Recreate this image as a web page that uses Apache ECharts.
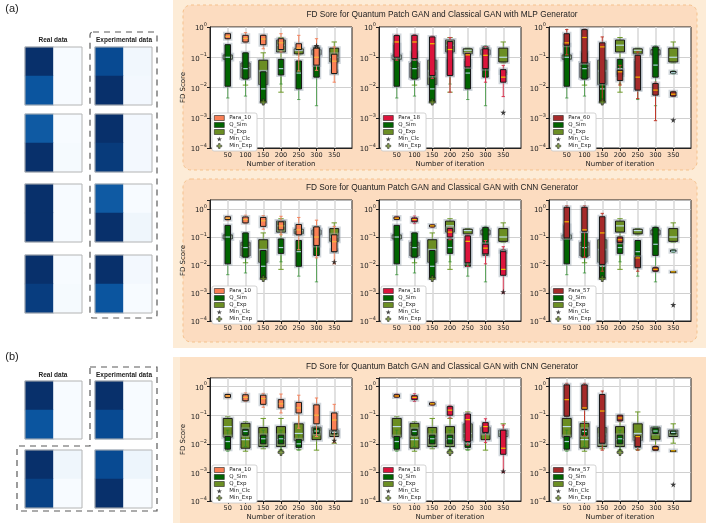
<!DOCTYPE html>
<html>
<head>
  <meta charset="UTF-8">
  <title>FD Score box plots</title>
  <script src="https://cdn.jsdelivr.net/npm/echarts@6/dist/echarts.min.js"></script>
  <style>html,body{margin:0;padding:0;background:#fff}#main{width:706px;height:523px}</style>
</head>
<body>
  <div id="main"></div>
  <script>
    // x categories (empty ends so 50..350 sit like on a 0-400 axis)
    const iterations = ['50', '100', '150', '200', '250', '300', '350'];
    const xCats = [''].concat(iterations, ['']);

    // each row: [low whisker, Q1, median, Q3, high whisker] per iteration
    const qSimPatch = [
      [0.0045, 0.011, 0.1, 0.26, 0.26],
      [0.0052, 0.019, 0.042, 0.14, 0.14],
      [0.0032, 0.0034, 0.009, 0.033, 0.033],
      [0.013, 0.026, 0.042, 0.085, 0.085],
      [0.004, 0.009, 0.03, 0.075, 0.075],
      [0.0025, 0.022, 0.055, 0.22, 0.24],
      [0.028, 0.03, 0.031, 0.034, 0.036]
    ];
    const qExpPatch = [
      [0.08, 0.085, 0.1, 0.12, 0.125],
      [0.012, 0.021, 0.045, 0.065, 0.13],
      [0.0035, 0.0125, 0.035, 0.08, 0.14],
      [0.007, 0.15, 0.25, 0.37, 0.45],
      [0.12, 0.13, 0.17, 0.19, 0.2],
      [0.11, 0.12, 0.15, 0.18, 0.21],
      [0.065, 0.07, 0.1, 0.2, 0.32]
    ];
    const qSimBatch = [
      [0.0055, 0.0065, 0.012, 0.018, 0.03],
      [0.008, 0.02, 0.027, 0.032, 0.035],
      [0.008, 0.01, 0.015, 0.02, 0.03],
      [0.006, 0.01, 0.015, 0.02, 0.03],
      [0.006, 0.0075, 0.01, 0.014, 0.02],
      [0.02, 0.023, 0.028, 0.035, 0.038],
      [0.02, 0.022, 0.025, 0.028, 0.03]
    ];
    const qExpBatch = [
      [0.006, 0.017, 0.04, 0.077, 0.088],
      [0.0055, 0.007, 0.014, 0.052, 0.059],
      [0.0067, 0.008, 0.016, 0.037, 0.077],
      [0.006, 0.008, 0.014, 0.04, 0.077],
      [0.0062, 0.013, 0.023, 0.05, 0.13],
      [0.006, 0.014, 0.026, 0.038, 0.04],
      [0.0105, 0.018, 0.025, 0.03, 0.05]
    ];
    const para10Mlp = [
      [0.40, 0.41, 0.49, 0.6, 0.62],
      [0.3, 0.32, 0.42, 0.53, 0.65],
      [0.19, 0.26, 0.4, 0.53, 0.55],
      [0.15, 0.18, 0.3, 0.41, 0.6],
      [0.035, 0.18, 0.2, 0.28, 0.53],
      [0.037, 0.055, 0.1, 0.2, 0.41],
      [0.015, 0.029, 0.074, 0.126, 0.22]
    ];
    const para18Mlp = [
      [0.08, 0.1, 0.32, 0.52, 0.55],
      [0.08, 0.09, 0.32, 0.53, 0.56],
      [0.02, 0.025, 0.28, 0.47, 0.5],
      [0.007, 0.025, 0.18, 0.33, 0.45],
      [0.045, 0.048, 0.12, 0.13, 0.14],
      [0.015, 0.042, 0.116, 0.19, 0.22],
      [0.005, 0.015, 0.022, 0.039, 0.054]
    ];
    const para60Mlp = [
      [0.12, 0.25, 0.3, 0.6, 0.82],
      [0.062, 0.065, 0.45, 0.82, 0.85],
      [0.0038, 0.0135, 0.22, 0.3, 0.47],
      [0.012, 0.017, 0.033, 0.037, 0.054],
      [0.0043, 0.0082, 0.022, 0.116, 0.15],
      [0.0008, 0.0056, 0.0082, 0.0135, 0.015],
      [0.005, 0.0052, 0.006, 0.0072, 0.0075]
    ];
    const para10Cnn = [
      [0.40, 0.42, 0.47, 0.53, 0.55],
      [0.30, 0.32, 0.42, 0.52, 0.6],
      [0.19, 0.24, 0.38, 0.5, 0.58],
      [0.12, 0.18, 0.25, 0.35, 0.55],
      [0.035, 0.12, 0.18, 0.28, 0.5],
      [0.018, 0.05, 0.1, 0.23, 0.4],
      [0.011, 0.03, 0.068, 0.12, 0.24]
    ];
    const para18Cnn = [
      [0.42, 0.43, 0.47, 0.52, 0.55],
      [0.3, 0.35, 0.42, 0.48, 0.56],
      [0.22, 0.23, 0.25, 0.27, 0.28],
      [0.08, 0.1, 0.15, 0.2, 0.22],
      [0.009, 0.012, 0.07, 0.11, 0.12],
      [0.011, 0.025, 0.04, 0.055, 0.075],
      [0.001, 0.0043, 0.007, 0.03, 0.045]
    ];
    const para57Cnn = [
      [0.09, 0.093, 0.35, 1.15, 1.3],
      [0.019, 0.16, 0.18, 1.15, 1.3],
      [0.006, 0.0105, 0.14, 0.53, 0.7],
      [0.06, 0.064, 0.08, 0.1, 0.1],
      [0.006, 0.008, 0.018, 0.019, 0.02],
      [0.0058, 0.006, 0.007, 0.008, 0.0085],
      [0.0056, 0.0057, 0.0057, 0.0058, 0.0058]
    ];
    // minimum markers [iteration, FD score]
    const minClcMlp = [['300', 0.24], ['350', 0.0015], ['350', 0.00085]];
    const minClcCnn = [['350', 0.013], ['350', 0.0011], ['350', 0.00038]];
    const minExpPatch = ['150', 0.0033];
    const minExpBatch = ['200', 0.005];

    // 2x2 sample images, [top-left, top-right, bottom-left, bottom-right], 0 = white .. 1 = dark blue
    const realA = [[1, 0, 0.86, 0], [0.84, 0, 1, 0.01], [1, 0, 1, 0], [1, 0, 0.95, 0.01]];
    const expA = [[0.9, 0.03, 1, 0.02], [1, 0.02, 0.96, 0.02], [0.84, 0, 1, 0.04], [1, 0.02, 0.86, 0]];
    const realB = [[1, 0, 0.86, 0], [1, 0.04, 0.93, 0]];
    const expB = [[1, 0, 0.9, 0], [0.9, 0.05, 1, 0]];

    const rowTitles = [
      'FD Sore for Quantum Patch GAN and Classical GAN with MLP Generator',
      'FD Sore for Quantum Patch GAN and Classical GAN with CNN Generator',
      'FD Sore for Quantum Batch GAN and Classical GAN with CNN Generator'
    ];

    const panels = [
      {row: 0, col: 0, para: 'Para_10', paraData: para10Mlp, qSim: qSimPatch, qExp: qExpPatch, minClc: minClcMlp[0], minExp: minExpPatch},
      {row: 0, col: 1, para: 'Para_18', paraData: para18Mlp, qSim: qSimPatch, qExp: qExpPatch, minClc: minClcMlp[1], minExp: minExpPatch},
      {row: 0, col: 2, para: 'Para_60', paraData: para60Mlp, qSim: qSimPatch, qExp: qExpPatch, minClc: minClcMlp[2], minExp: minExpPatch},
      {row: 1, col: 0, para: 'Para_10', paraData: para10Cnn, qSim: qSimPatch, qExp: qExpPatch, minClc: minClcCnn[0], minExp: minExpPatch},
      {row: 1, col: 1, para: 'Para_18', paraData: para18Cnn, qSim: qSimPatch, qExp: qExpPatch, minClc: minClcCnn[1], minExp: minExpPatch},
      {row: 1, col: 2, para: 'Para_57', paraData: para57Cnn, qSim: qSimPatch, qExp: qExpPatch, minClc: minClcCnn[2], minExp: minExpPatch},
      {row: 2, col: 0, para: 'Para_10', paraData: para10Cnn, qSim: qSimBatch, qExp: qExpBatch, minClc: minClcCnn[0], minExp: minExpBatch},
      {row: 2, col: 1, para: 'Para_18', paraData: para18Cnn, qSim: qSimBatch, qExp: qExpBatch, minClc: minClcCnn[1], minExp: minExpBatch},
      {row: 2, col: 2, para: 'Para_57', paraData: para57Cnn, qSim: qSimBatch, qExp: qExpBatch, minClc: minClcCnn[2], minExp: minExpBatch}
    ];

    // layout
    const colLeft = [210, 379, 549];
    const plotW = 142;
    const rowTop = [27, 200, 378];
    const rowH = [121, 121, 123];
    const rowMax = [1, 2.1, 2];
    const legendTop = [113, 286, 465];
    const titleY = [15, 188, 367];

    const styles = {
      Q_Sim: {fill: '#006400', whisker: 'rgba(40,140,40,0.7)', median: '#a9cfd6', w: 5.5},
      Q_Exp: {fill: '#6b8e23', whisker: '#6d9a28', median: '#bcdde6', w: 9},
      Para_10: {fill: '#fa8056', whisker: '#f4845f', median: '#f5b73a', w: 5.5},
      Para_18: {fill: '#dc143c', whisker: '#d9334f', median: '#f2c200', w: 5.5},
      Para_60: {fill: '#a52a2a', whisker: '#c0392b', median: '#f2b400', w: 5.5},
      Para_57: {fill: '#a52a2a', whisker: '#c0392b', median: '#f2b400', w: 5.5}
    };
    const starPath = 'path://M50,0 L61,35 L98,35 L68,57 L79,91 L50,70 L21,91 L32,57 L2,35 L39,35 Z';
    const plusPath = 'path://M34,0 H66 V34 H100 V66 H66 V100 H34 V66 H0 V34 H34 Z';

    function boxRenderer(st) {
      return function (params, api) {
        const c = [1, 2, 3, 4, 5].map(k => api.coord([api.value(0), api.value(k)]));
        const x = c[0][0], lo = c[0][1], q1 = c[1][1], md = c[2][1], q3 = c[3][1], hi = c[4][1];
        const w = st.w, cw = w * 0.6;
        const ws = {stroke: st.whisker, lineWidth: 1};
        return {
          type: 'group',
          children: [
            {type: 'line', shape: {x1: x, y1: hi, x2: x, y2: q3}, style: ws},
            {type: 'line', shape: {x1: x, y1: q1, x2: x, y2: lo}, style: ws},
            {type: 'line', shape: {x1: x - cw / 2, y1: hi, x2: x + cw / 2, y2: hi}, style: ws},
            {type: 'line', shape: {x1: x - cw / 2, y1: lo, x2: x + cw / 2, y2: lo}, style: ws},
            {type: 'rect', shape: {x: x - w / 2 - 1, y: q3 - 1, width: w + 2, height: q1 - q3 + 2},
              style: {fill: 'none', stroke: 'rgba(150,165,175,0.45)', lineWidth: 2}},
            {type: 'rect', shape: {x: x - w / 2, y: q3, width: w, height: Math.max(q1 - q3, 1)},
              style: {fill: st.fill, stroke: '#1a1a1a', lineWidth: 1}},
            {type: 'line', shape: {x1: x - w / 2 + 0.5, y1: md, x2: x + w / 2 - 0.5, y2: md},
              style: {stroke: st.median, lineWidth: 1.2}}
          ]
        };
      };
    }

    function sciLabel(v) {
      const e = Math.log10(v);
      if (Math.abs(e - Math.round(e)) > 1e-6) return '';
      const r = Math.round(e);
      return '{b|10}{s|' + (r < 0 ? '\u2212' + (-r) : r) + '}';
    }

    const grid = [], xAxis = [], yAxis = [], series = [], legend = [];

    panels.forEach((p, i) => {
      grid.push({left: colLeft[p.col], top: rowTop[p.row], width: plotW, height: rowH[p.row],
        show: true, backgroundColor: '#fff', borderColor: '#222', borderWidth: 1});
      xAxis.push({
        type: 'category', gridIndex: i, data: xCats, boundaryGap: false,
        axisLine: {show: true, lineStyle: {color: '#222'}},
        axisTick: {show: true, length: 3, interval: (idx, v) => v !== '', lineStyle: {color: '#222'}},
        axisLabel: {interval: 0, fontSize: 6.5, color: '#222', margin: 4},
        splitLine: {show: true, interval: (idx, v) => v !== '', lineStyle: {color: '#dadada', width: 1.6}},
        name: p.row !== 1 ? 'Number of iteration' : '', nameLocation: 'middle', nameGap: 13,
        nameTextStyle: {fontSize: 7, color: '#222'}
      });
      yAxis.push({
        type: 'log', logBase: 10, gridIndex: i, min: 1e-4, max: rowMax[p.row],
        axisLine: {show: true, lineStyle: {color: '#222'}},
        axisTick: {show: true, length: 3, lineStyle: {color: '#222'}},
        axisLabel: {formatter: sciLabel, margin: 3, color: '#222',
          rich: {b: {fontSize: 7, lineHeight: 10, verticalAlign: 'bottom', color: '#222'},
                 s: {fontSize: 5, lineHeight: 7, verticalAlign: 'top', color: '#222'}}},
        splitLine: {show: true, lineStyle: {color: '#c4c4c4', width: 0.8}},
        name: p.col === 0 ? 'FD Score' : '', nameLocation: 'middle', nameGap: 21,
        nameTextStyle: {fontSize: 7, color: '#222'}
      });
      [['Q_Exp', p.qExp], ['Q_Sim', p.qSim], [p.para, p.paraData]].forEach(([name, arr]) => {
        series.push({
          type: 'custom', name: name, xAxisIndex: i, yAxisIndex: i,
          renderItem: boxRenderer(styles[name]),
          encode: {x: 0, y: [1, 2, 3, 4, 5]},
          itemStyle: {color: styles[name].fill},
          data: iterations.map((it, k) => [it].concat(arr[k])),
          z: 3
        });
      });
      series.push({type: 'scatter', name: 'Min_Clc', xAxisIndex: i, yAxisIndex: i, symbol: starPath,
        symbolSize: 6, itemStyle: {color: '#111'}, data: [p.minClc], z: 5});
      series.push({type: 'scatter', name: 'Min_Exp', xAxisIndex: i, yAxisIndex: i, symbol: plusPath,
        symbolSize: 6, itemStyle: {color: '#6b8e23', borderColor: '#1a1a1a', borderWidth: 0.8},
        data: [p.minExp], z: 5});
      const pst = styles[p.para];
      legend.push({
        orient: 'vertical', left: colLeft[p.col] + 2, top: legendTop[p.row],
        itemWidth: 10, itemHeight: 5, itemGap: 1, padding: [2, 5, 2, 2],
        textStyle: {fontSize: 5.5, color: '#222'}, selectedMode: false,
        backgroundColor: '#fff', borderColor: '#c8c8c8', borderWidth: 0.8, borderRadius: 2,
        data: [
          {name: p.para, icon: 'rect', itemStyle: {color: pst.fill, borderColor: '#222', borderWidth: 0.6}},
          {name: 'Q_Sim', icon: 'rect', itemStyle: {color: styles.Q_Sim.fill, borderColor: '#222', borderWidth: 0.6}},
          {name: 'Q_Exp', icon: 'rect', itemStyle: {color: styles.Q_Exp.fill, borderColor: '#222', borderWidth: 0.6}},
          {name: 'Min_Clc', icon: starPath, itemStyle: {color: '#111'}},
          {name: 'Min_Exp', icon: plusPath, itemStyle: {color: '#6b8e23', borderColor: '#1a1a1a', borderWidth: 0.6}}
        ]
      });
    });

    // small sample heatmaps on the left
    const heatBoxes = [];
    const heatIdx = [];
    function addHeat(vals, left, top) {
      const gi = grid.length;
      grid.push({left: left, top: top, width: 57, height: 58, show: false});
      xAxis.push({type: 'category', gridIndex: gi, data: [0, 1], show: false});
      yAxis.push({type: 'category', gridIndex: gi, data: [0, 1], inverse: true, show: false});
      heatIdx.push(series.length);
      series.push({type: 'heatmap', xAxisIndex: gi, yAxisIndex: gi, progressive: 0,
        data: [[0, 0, vals[0]], [1, 0, vals[1]], [0, 1, vals[2]], [1, 1, vals[3]]]});
      heatBoxes.push({type: 'rect', shape: {x: left, y: top, width: 57, height: 58},
        style: {fill: 'none', stroke: '#b4b4b4', lineWidth: 1}, z: 100});
    }
    const topsA = [47, 114, 184, 255];
    const topsB = [381, 450];
    realA.forEach((v, k) => addHeat(v, 25, topsA[k]));
    expA.forEach((v, k) => addHeat(v, 95, topsA[k]));
    realB.forEach((v, k) => addHeat(v, 25, topsB[k]));
    expB.forEach((v, k) => addHeat(v, 95, topsB[k]));

    const dashed = {fill: 'none', stroke: '#5a5a5a', lineWidth: 1.2, lineDash: [6, 5]};
    const txt = (t, x, y, size, extra) => ({type: 'text', x: x, y: y, z: 100,
      style: Object.assign({text: t, fill: '#222', fontSize: size, fontFamily: 'DejaVu Sans',
        align: 'center', verticalAlign: 'middle'}, extra || {})});
    const head = {fontWeight: 'bold', fontFamily: 'Liberation Sans'};

    const graphic = [
      {type: 'rect', shape: {x: 173, y: 0, width: 533, height: 348}, style: {fill: '#fdecd7'}, z: -10},
      {type: 'rect', shape: {x: 183, y: 5, width: 514, height: 165, r: 8},
        style: {fill: '#fcdcc0', stroke: '#f5c18c', lineWidth: 1, lineDash: [3, 3]}, z: -9},
      {type: 'rect', shape: {x: 183, y: 179, width: 514, height: 163, r: 8},
        style: {fill: '#fcdcc0', stroke: '#f5c18c', lineWidth: 1, lineDash: [3, 3]}, z: -9},
      {type: 'rect', shape: {x: 173, y: 357, width: 533, height: 166}, style: {fill: '#fdecd7'}, z: -10},
      {type: 'rect', shape: {x: 180, y: 357, width: 526, height: 166}, style: {fill: '#fde1c6'}, z: -9},
      {type: 'rect', shape: {x: 90, y: 32, width: 67, height: 286, r: 3}, style: dashed, z: 100},
      {type: 'polygon', shape: {points: [[90, 367], [157, 367], [157, 511], [17, 511], [17, 446], [90, 446]]},
        style: dashed, z: 100},
      txt('(a)', 12, 9, 11, {fontFamily: 'Liberation Sans'}),
      txt('(b)', 12, 357, 11, {fontFamily: 'Liberation Sans'}),
      txt('Real data', 53, 40, 6.5, head),
      txt('Experimental data', 124, 40, 6.5, head),
      txt('Real data', 53, 375, 6.5, head),
      txt('Experimental data', 124, 375, 6.5, head)
    ].concat(heatBoxes,
      rowTitles.map((t, r) => txt(t, 442, titleY[r], 8.3, {fontFamily: 'Liberation Sans'})));

    const chart = echarts.init(document.getElementById('main'));
    chart.setOption({
      animation: false,
      textStyle: {fontFamily: 'DejaVu Sans'},
      grid: grid, xAxis: xAxis, yAxis: yAxis, legend: legend,
      visualMap: {type: 'continuous', show: false, min: 0, max: 1, seriesIndex: heatIdx,
        inRange: {color: ['#f7fbff', '#deebf7', '#c6dbef', '#9ecae1', '#6baed6', '#4292c6', '#2171b5', '#08519c', '#08306b']}},
      graphic: graphic,
      series: series
    });
  </script>
</body>
</html>
